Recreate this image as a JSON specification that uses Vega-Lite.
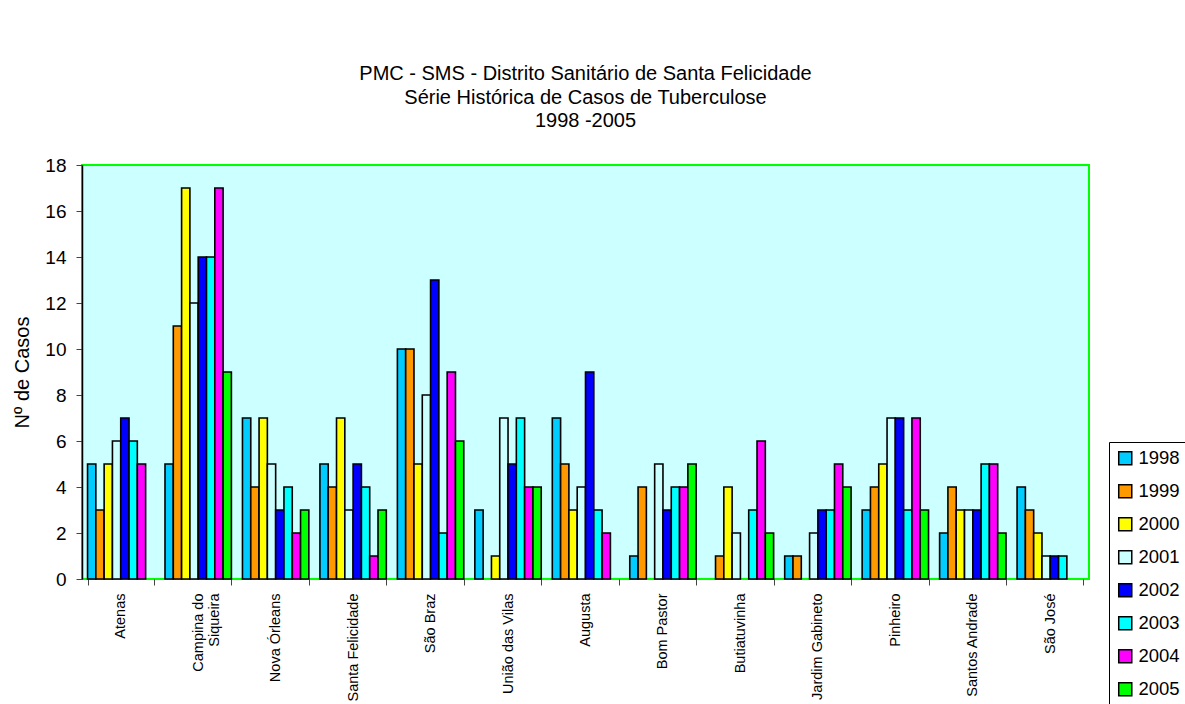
{
  "$schema": "https://vega.github.io/schema/vega-lite/v6.json",
  "width": 1007,
  "height": 414,
  "autosize": {"type": "none"},
  "padding": {"left": 82, "top": 165, "right": 96, "bottom": 125},
  "background": "white",
  "config": {
    "font": "Liberation Sans",
    "view": {"fill": "#CCFFFF", "stroke": "#00FF00", "strokeWidth": 2}
  },
  "title": {
    "text": ["PMC - SMS  - Distrito Sanitário de Santa Felicidade", "Série Histórica de Casos de Tuberculose", "1998 -2005"],
    "font": "Liberation Sans",
    "fontSize": 20,
    "fontWeight": "normal",
    "color": "black",
    "lineHeight": 23.5,
    "offset": 25,
    "anchor": "middle"
  },
  "data": {
    "values": [
      {"bairro": "Atenas", "ano": "1998", "casos": 5},
      {"bairro": "Atenas", "ano": "1999", "casos": 3},
      {"bairro": "Atenas", "ano": "2000", "casos": 5},
      {"bairro": "Atenas", "ano": "2001", "casos": 6},
      {"bairro": "Atenas", "ano": "2002", "casos": 7},
      {"bairro": "Atenas", "ano": "2003", "casos": 6},
      {"bairro": "Atenas", "ano": "2004", "casos": 5},
      {"bairro": "Campina do Siqueira", "ano": "1998", "casos": 5},
      {"bairro": "Campina do Siqueira", "ano": "1999", "casos": 11},
      {"bairro": "Campina do Siqueira", "ano": "2000", "casos": 17},
      {"bairro": "Campina do Siqueira", "ano": "2001", "casos": 12},
      {"bairro": "Campina do Siqueira", "ano": "2002", "casos": 14},
      {"bairro": "Campina do Siqueira", "ano": "2003", "casos": 14},
      {"bairro": "Campina do Siqueira", "ano": "2004", "casos": 17},
      {"bairro": "Campina do Siqueira", "ano": "2005", "casos": 9},
      {"bairro": "Nova Órleans", "ano": "1998", "casos": 7},
      {"bairro": "Nova Órleans", "ano": "1999", "casos": 4},
      {"bairro": "Nova Órleans", "ano": "2000", "casos": 7},
      {"bairro": "Nova Órleans", "ano": "2001", "casos": 5},
      {"bairro": "Nova Órleans", "ano": "2002", "casos": 3},
      {"bairro": "Nova Órleans", "ano": "2003", "casos": 4},
      {"bairro": "Nova Órleans", "ano": "2004", "casos": 2},
      {"bairro": "Nova Órleans", "ano": "2005", "casos": 3},
      {"bairro": "Santa Felicidade", "ano": "1998", "casos": 5},
      {"bairro": "Santa Felicidade", "ano": "1999", "casos": 4},
      {"bairro": "Santa Felicidade", "ano": "2000", "casos": 7},
      {"bairro": "Santa Felicidade", "ano": "2001", "casos": 3},
      {"bairro": "Santa Felicidade", "ano": "2002", "casos": 5},
      {"bairro": "Santa Felicidade", "ano": "2003", "casos": 4},
      {"bairro": "Santa Felicidade", "ano": "2004", "casos": 1},
      {"bairro": "Santa Felicidade", "ano": "2005", "casos": 3},
      {"bairro": "São Braz", "ano": "1998", "casos": 10},
      {"bairro": "São Braz", "ano": "1999", "casos": 10},
      {"bairro": "São Braz", "ano": "2000", "casos": 5},
      {"bairro": "São Braz", "ano": "2001", "casos": 8},
      {"bairro": "São Braz", "ano": "2002", "casos": 13},
      {"bairro": "São Braz", "ano": "2003", "casos": 2},
      {"bairro": "São Braz", "ano": "2004", "casos": 9},
      {"bairro": "São Braz", "ano": "2005", "casos": 6},
      {"bairro": "União das Vilas", "ano": "1998", "casos": 3},
      {"bairro": "União das Vilas", "ano": "2000", "casos": 1},
      {"bairro": "União das Vilas", "ano": "2001", "casos": 7},
      {"bairro": "União das Vilas", "ano": "2002", "casos": 5},
      {"bairro": "União das Vilas", "ano": "2003", "casos": 7},
      {"bairro": "União das Vilas", "ano": "2004", "casos": 4},
      {"bairro": "União das Vilas", "ano": "2005", "casos": 4},
      {"bairro": "Augusta", "ano": "1998", "casos": 7},
      {"bairro": "Augusta", "ano": "1999", "casos": 5},
      {"bairro": "Augusta", "ano": "2000", "casos": 3},
      {"bairro": "Augusta", "ano": "2001", "casos": 4},
      {"bairro": "Augusta", "ano": "2002", "casos": 9},
      {"bairro": "Augusta", "ano": "2003", "casos": 3},
      {"bairro": "Augusta", "ano": "2004", "casos": 2},
      {"bairro": "Bom Pastor", "ano": "1998", "casos": 1},
      {"bairro": "Bom Pastor", "ano": "1999", "casos": 4},
      {"bairro": "Bom Pastor", "ano": "2001", "casos": 5},
      {"bairro": "Bom Pastor", "ano": "2002", "casos": 3},
      {"bairro": "Bom Pastor", "ano": "2003", "casos": 4},
      {"bairro": "Bom Pastor", "ano": "2004", "casos": 4},
      {"bairro": "Bom Pastor", "ano": "2005", "casos": 5},
      {"bairro": "Butiatuvinha", "ano": "1999", "casos": 1},
      {"bairro": "Butiatuvinha", "ano": "2000", "casos": 4},
      {"bairro": "Butiatuvinha", "ano": "2001", "casos": 2},
      {"bairro": "Butiatuvinha", "ano": "2003", "casos": 3},
      {"bairro": "Butiatuvinha", "ano": "2004", "casos": 6},
      {"bairro": "Butiatuvinha", "ano": "2005", "casos": 2},
      {"bairro": "Jardim Gabineto", "ano": "1998", "casos": 1},
      {"bairro": "Jardim Gabineto", "ano": "1999", "casos": 1},
      {"bairro": "Jardim Gabineto", "ano": "2001", "casos": 2},
      {"bairro": "Jardim Gabineto", "ano": "2002", "casos": 3},
      {"bairro": "Jardim Gabineto", "ano": "2003", "casos": 3},
      {"bairro": "Jardim Gabineto", "ano": "2004", "casos": 5},
      {"bairro": "Jardim Gabineto", "ano": "2005", "casos": 4},
      {"bairro": "Pinheiro", "ano": "1998", "casos": 3},
      {"bairro": "Pinheiro", "ano": "1999", "casos": 4},
      {"bairro": "Pinheiro", "ano": "2000", "casos": 5},
      {"bairro": "Pinheiro", "ano": "2001", "casos": 7},
      {"bairro": "Pinheiro", "ano": "2002", "casos": 7},
      {"bairro": "Pinheiro", "ano": "2003", "casos": 3},
      {"bairro": "Pinheiro", "ano": "2004", "casos": 7},
      {"bairro": "Pinheiro", "ano": "2005", "casos": 3},
      {"bairro": "Santos Andrade", "ano": "1998", "casos": 2},
      {"bairro": "Santos Andrade", "ano": "1999", "casos": 4},
      {"bairro": "Santos Andrade", "ano": "2000", "casos": 3},
      {"bairro": "Santos Andrade", "ano": "2001", "casos": 3},
      {"bairro": "Santos Andrade", "ano": "2002", "casos": 3},
      {"bairro": "Santos Andrade", "ano": "2003", "casos": 5},
      {"bairro": "Santos Andrade", "ano": "2004", "casos": 5},
      {"bairro": "Santos Andrade", "ano": "2005", "casos": 2},
      {"bairro": "São José", "ano": "1998", "casos": 4},
      {"bairro": "São José", "ano": "1999", "casos": 3},
      {"bairro": "São José", "ano": "2000", "casos": 2},
      {"bairro": "São José", "ano": "2001", "casos": 1},
      {"bairro": "São José", "ano": "2002", "casos": 1},
      {"bairro": "São José", "ano": "2003", "casos": 1}
    ]
  },
  "mark": {"type": "bar", "stroke": "black", "strokeWidth": 1.6, "opacity": 1},
  "encoding": {
    "x": {
      "field": "bairro",
      "type": "nominal",
      "sort": null,
      "scale": {"paddingInner": 0.143, "paddingOuter": 0.0715},
      "axis": {
        "title": null,
        "domain": false,
        "tickBand": "extent",
        "tickColor": "#444444",
        "tickSize": 6,
        "labelAngle": -90,
        "labelFontSize": 14.5,
        "labelColor": "black",
        "labelPadding": 8,
        "labelLimit": 200,
        "labelLineHeight": 16,
        "labelExpr": "datum.label == 'Campina do Siqueira' ? ['Campina do', 'Siqueira'] : datum.label"
      }
    },
    "xOffset": {
      "field": "ano",
      "type": "nominal",
      "scale": {"paddingInner": 0, "paddingOuter": 0}
    },
    "y": {
      "field": "casos",
      "type": "quantitative",
      "scale": {"domain": [0, 18]},
      "axis": {
        "title": "Nº de Casos",
        "titleFontSize": 20,
        "titleFontWeight": "normal",
        "titleColor": "black",
        "titlePadding": 12,
        "values": [0, 2, 4, 6, 8, 10, 12, 14, 16, 18],
        "grid": false,
        "domainColor": "black",
        "domainWidth": 1.5,
        "tickColor": "#444444",
        "tickSize": 6,
        "labelFontSize": 19,
        "labelColor": "black",
        "labelPadding": 10
      }
    },
    "color": {
      "field": "ano",
      "type": "nominal",
      "scale": {
        "domain": ["1998", "1999", "2000", "2001", "2002", "2003", "2004", "2005"],
        "range": ["#00CCFF", "#FF9900", "#FFFF00", "#CCFFFF", "#0000FF", "#00FFFF", "#FF00FF", "#00FF00"]
      },
      "legend": {
        "title": null,
        "orient": "none",
        "legendX": 1027,
        "legendY": 277,
        "symbolType": "square",
        "symbolSize": 170,
        "symbolStrokeColor": "black",
        "symbolStrokeWidth": 1.5,
        "symbolOpacity": 1,
        "labelFontSize": 18.5,
        "labelColor": "black",
        "labelOffset": 4,
        "rowPadding": 13,
        "padding": 7,
        "strokeColor": "black",
        "fillColor": "white"
      }
    }
  }
}
